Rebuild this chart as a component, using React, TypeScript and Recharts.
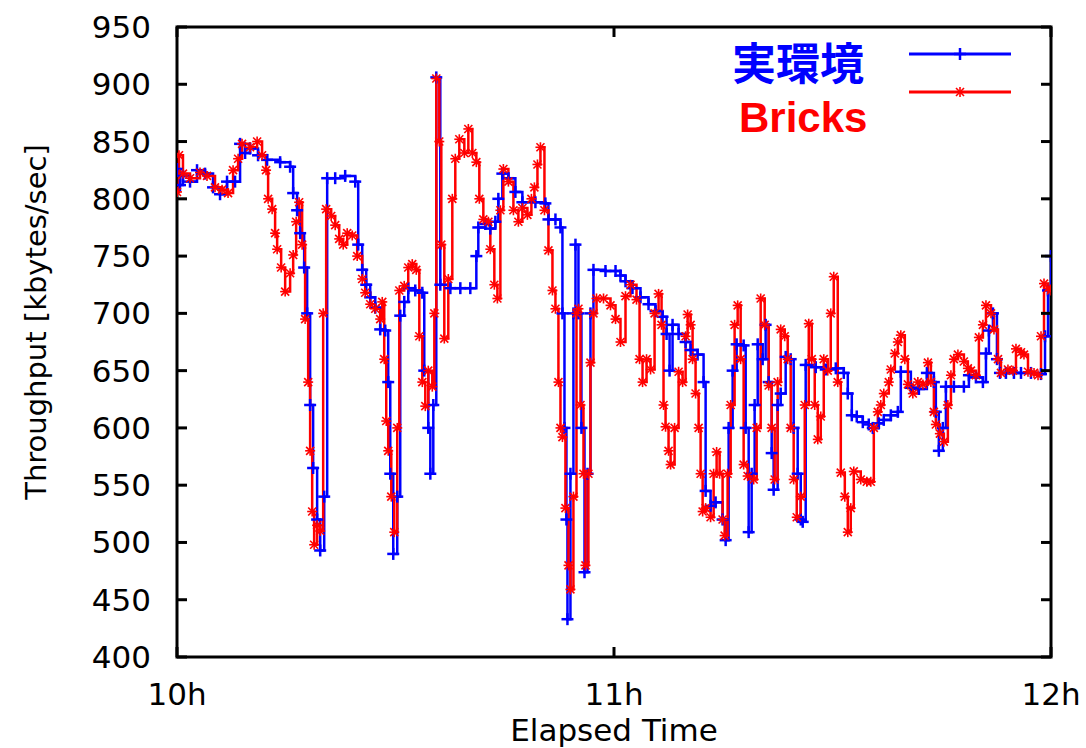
import React from 'react';
import { LineChart, Line, XAxis, YAxis, ReferenceArea } from 'recharts';

// elapsed minutes since 10h, throughput in kbytes/sec
const realTimes = [
  0, 0.41, 0.82, 1.79, 2.75, 3.85, 4.95, 5.91, 6.87, 7.97,
  8.66, 9.35, 10.03, 11.13, 12.37, 14.16, 15.53, 15.95, 16.49, 16.91,
  17.46, 17.87, 18.28, 18.69, 19.24, 19.66, 20.21, 20.62, 21.72, 23.09,
  24.47, 24.88, 25.43, 25.98, 26.53, 27.22, 27.9, 28.59, 29.0, 29.28,
  29.69, 30.24, 30.65, 31.2, 31.75, 32.71, 33.68, 33.95, 34.5, 34.78,
  35.19, 35.6, 36.15, 37.53, 38.9, 40.27, 41.1, 41.37, 42.34, 43.02,
  43.71, 44.12, 44.67, 45.5, 46.46, 47.42, 49.21, 50.58, 51.0, 51.96,
  52.65, 52.92, 53.2, 53.47, 53.61, 54.02, 54.43, 54.71, 55.12, 55.53,
  55.95, 56.36, 56.77, 57.18, 58.83, 60.21, 60.89, 61.58, 62.54, 63.64,
  64.74, 65.7, 66.67, 67.22, 67.63, 68.04, 68.87, 69.83, 70.52, 71.48,
  72.3, 72.58, 73.26, 73.95, 74.91, 75.33, 75.74, 76.29, 76.84, 77.8,
  78.08, 78.49, 78.9, 79.31, 79.73, 80.41, 80.82, 81.24, 81.65, 81.92,
  82.47, 82.89, 83.57, 84.26, 84.67, 85.22, 85.64, 85.91, 86.32, 87.7,
  89.07, 90.45, 91.55, 92.1, 92.65, 93.33, 94.16, 94.98, 95.53, 96.36,
  97.04, 98.01, 98.97, 99.38, 100.76, 101.86, 102.96, 103.92, 104.19, 104.6,
  105.15, 105.57, 106.67, 108.04, 108.73, 109.69, 110.65, 111.07, 111.48, 112.03,
  112.58, 112.99, 113.81, 114.91, 115.88, 117.25, 118.63, 119.18, 119.59, 120,
];
const realValues = [
  826, 812, 820, 815, 825, 822, 810, 804, 815, 815,
  848, 840, 844, 838, 834, 832, 828, 805, 790, 770,
  740, 700, 620, 565, 520, 493, 540, 818, 818, 820,
  815, 760, 738, 725, 714, 705, 686, 685, 640, 560,
  490, 540, 698, 710, 722, 720, 718, 650, 600, 560,
  620, 906, 725, 722, 722, 722, 750, 775, 778, 774,
  780, 800, 822, 818, 806, 797, 797, 796, 782, 782,
  775, 700, 600, 520, 433, 560, 700, 760, 700, 600,
  474, 560, 700, 738, 737, 737, 733, 728, 722, 714,
  708, 702, 697, 682, 650, 690, 682, 675, 668, 664,
  640, 545, 532, 535, 520, 502, 600, 650, 673, 672,
  600, 509, 560, 620, 673, 660, 690, 640, 578, 546,
  620, 630, 662, 660, 600, 560, 520, 518, 655, 653,
  651, 652, 648, 630, 611, 610, 605, 603, 600, 604,
  607, 611, 614, 649, 635, 634, 648, 640, 614, 580,
  600, 636, 636, 636, 646, 644, 640, 665, 685, 700,
  660, 648, 648, 648, 648, 648, 647, 680, 720, 750,
];

const bricksTimes = [
  0, 0.27, 0.82, 1.79, 3.16, 4.12, 5.22, 6.19, 7.01, 7.7,
  8.39, 8.93, 10.03, 11.0, 11.68, 12.23, 12.51, 13.06, 13.47, 13.75,
  14.3, 14.85, 15.53, 15.95, 16.36, 16.77, 17.18, 17.59, 18.01, 18.28,
  18.56, 18.83, 19.24, 19.66, 20.07, 20.48, 21.17, 21.72, 22.27, 22.82,
  23.37, 24.06, 24.74, 25.43, 25.84, 26.53, 27.22, 27.9, 28.18, 28.45,
  28.73, 29.0, 29.42, 29.83, 30.24, 30.52, 31.2, 31.75, 32.3, 32.85,
  33.27, 33.68, 34.09, 34.5, 35.05, 35.33, 35.6, 36.01, 36.29, 36.7,
  37.25, 37.8, 38.21, 38.76, 39.45, 40.0, 40.55, 41.1, 41.51, 42.06,
  42.75, 43.02, 43.57, 43.99, 44.4, 44.81, 45.5, 46.19, 46.87, 47.42,
  48.11, 48.66, 49.07, 49.49, 49.9, 50.45, 51.0, 51.55, 51.96, 52.37,
  52.65, 52.92, 53.33, 53.75, 54.02, 54.43, 54.85, 55.12, 55.4, 55.81,
  56.08, 56.49, 56.77, 57.18, 57.6, 58.56, 59.52, 60.21, 60.89, 61.58,
  62.27, 63.09, 63.51, 63.92, 64.47, 65.02, 65.57, 66.12, 66.53, 66.8,
  67.08, 67.49, 67.77, 68.32, 68.87, 69.42, 69.83, 70.11, 70.52, 70.79,
  71.2, 71.62, 71.89, 72.17, 72.58, 73.26, 73.68, 74.09, 74.5, 74.91,
  75.19, 75.6, 76.02, 76.56, 76.98, 77.39, 77.8, 78.35, 79.18, 79.59,
  80.14, 80.69, 81.24, 81.65, 82.06, 82.47, 82.89, 83.44, 83.85, 84.26,
  84.67, 85.09, 85.64, 86.19, 86.74, 87.15, 87.56, 87.98, 88.39, 88.8,
  89.35, 89.76, 90.17, 90.72, 91.14, 91.69, 92.1, 92.51, 92.92, 93.88,
  94.71, 95.26, 95.67, 96.22, 96.63, 97.04, 97.73, 98.01, 98.56, 98.97,
  99.38, 99.93, 100.35, 101.03, 101.72, 102.41, 103.1, 103.51, 103.92, 104.19,
  104.74, 105.29, 105.84, 106.26, 106.67, 107.22, 108.04, 108.59, 109.01, 109.69,
  110.1, 110.65, 111.07, 111.76, 112.17, 112.72, 113.13, 114.09, 114.78, 115.19,
  115.88, 116.29, 116.84, 117.67, 118.22, 118.63, 119.04, 119.59, 120,
];
const bricksValues = [
  806, 838, 822, 818, 823, 820, 810, 808, 805, 825,
  835, 848, 845, 850, 838, 825, 800, 791, 770, 756,
  740, 719, 735, 751, 780, 797, 760, 695, 640, 580,
  527, 498, 515, 510, 700, 791, 785, 777, 765, 760,
  770, 768, 750, 730, 718, 708, 704, 695, 710, 660,
  606, 580, 540, 509, 600, 720, 724, 740, 743, 738,
  680, 640, 619, 650, 636, 700, 905, 850, 760, 678,
  730, 800, 835, 852, 840, 861, 840, 832, 800, 782,
  780, 756, 725, 713, 790, 826, 815, 790, 780, 792,
  786, 800, 810, 830, 845, 790, 755, 720, 704, 640,
  600, 592, 530, 480, 459, 540, 700, 704, 620, 560,
  480, 560, 657, 700, 713, 713, 707, 695, 675, 715,
  725, 712, 660, 640, 660, 651, 700, 717, 690, 620,
  601, 580, 568, 600, 649, 640, 680, 699, 690, 660,
  630, 600, 560, 527, 530, 522, 560, 579, 560, 520,
  506, 560, 620, 690, 707, 660, 568, 558, 555, 600,
  713, 690, 637, 600, 555, 640, 686, 680, 660, 600,
  555, 522, 540, 620, 691, 660, 620, 590, 610, 660,
  650, 700, 732, 640, 561, 540, 509, 530, 562, 555,
  553, 553, 600, 614, 620, 630, 640, 651, 665, 675,
  681, 660, 638, 630, 640, 638, 657, 640, 614, 603,
  595, 588, 620, 646, 660, 664, 658, 652, 650, 646,
  679, 690, 707, 700, 686, 660, 648, 651, 650, 669,
  666, 664, 649, 648, 646, 680, 726, 722, 720,
];

const yTicks = [400, 450, 500, 550, 600, 650, 700, 750, 800, 850, 900, 950];
const xTickValues = [0, 60, 120];
const xTickLabels = ['10h', '11h', '12h'];
const seriesNames = ['実環境', 'Bricks'];

const realData = realTimes.map((t, i) => ({ t, v: realValues[i] }));
const bricksData = bricksTimes.map((t, i) => ({ t, v: bricksValues[i] }));

const W = 1086;
const H = 748;
const Y_AXIS_W = 100;
const X_AXIS_H = 60;
const MARGIN = { top: 27, right: 35, bottom: 31, left: 77 };
const PLOT_LEFT = MARGIN.left + Y_AXIS_W;
const PLOT_RIGHT = W - MARGIN.right;
const PLOT_TOP = MARGIN.top;
const PLOT_BOTTOM = H - MARGIN.bottom - X_AXIS_H;

const BLUE = '#0000ff';
const RED = '#ff0000';
const FONT = '"DejaVu Sans", sans-serif';

const PlusMark = ({ cx, cy }: { cx: number; cy: number }) => (
  <g stroke={BLUE} strokeWidth={2.5}>
    <line x1={cx - 6} x2={cx + 6} y1={cy} y2={cy} />
    <line x1={cx} x2={cx} y1={cy - 6} y2={cy + 6} />
  </g>
);

const StarMark = ({ cx, cy }: { cx: number; cy: number }) => (
  <g stroke={RED} strokeWidth={1.6}>
    <line x1={cx - 5} x2={cx + 5} y1={cy} y2={cy} />
    <line x1={cx} x2={cx} y1={cy - 5} y2={cy + 5} />
    <line x1={cx - 4} x2={cx + 4} y1={cy - 4} y2={cy + 4} />
    <line x1={cx - 4} x2={cx + 4} y1={cy + 4} y2={cy - 4} />
  </g>
);

const YTick = (props: any) => {
  const { x, y, payload } = props;
  return (
    <g>
      <line x1={PLOT_LEFT} x2={PLOT_LEFT + 10} y1={y} y2={y} stroke="#000" strokeWidth={3} />
      <line x1={PLOT_RIGHT - 10} x2={PLOT_RIGHT} y1={y} y2={y} stroke="#000" strokeWidth={3} />
      <text x={x} y={y + 11} textAnchor="end" fontSize={31} fontFamily={FONT} fill="#000">
        {payload.value}
      </text>
    </g>
  );
};

const XTick = (props: any) => {
  const { x, payload } = props;
  const label = xTickLabels[xTickValues.indexOf(payload.value)];
  return (
    <g>
      <line x1={x} x2={x} y1={PLOT_BOTTOM - 10} y2={PLOT_BOTTOM} stroke="#000" strokeWidth={3} />
      <line x1={x} x2={x} y1={PLOT_TOP} y2={PLOT_TOP + 10} stroke="#000" strokeWidth={3} />
      <text x={x} y={PLOT_BOTTOM + 48} textAnchor="middle" fontSize={31} fontFamily={FONT} fill="#000">
        {label}
      </text>
    </g>
  );
};

const App: React.FC = () => {
  return (
    <div style={{ position: 'absolute', left: 0, top: 0, width: W, height: H, background: '#fff' }}>
      <LineChart width={W} height={H} margin={MARGIN}>
        <XAxis
          dataKey="t"
          type="number"
          domain={[0, 120]}
          ticks={xTickValues}
          allowDataOverflow
          height={X_AXIS_H}
          axisLine={false}
          tickLine={false}
          tickSize={0}
          tick={<XTick />}
        />
        <YAxis
          type="number"
          domain={[400, 950]}
          ticks={yTicks}
          allowDataOverflow
          width={Y_AXIS_W}
          axisLine={false}
          tickLine={false}
          tickSize={0}
          tickMargin={26}
          tick={<YTick />}
        />
        <Line
          data={realData}
          dataKey="v"
          name={seriesNames[0]}
          type="stepAfter"
          stroke={BLUE}
          strokeWidth={2.5}
          dot={(p: any) => <PlusMark key={`b${p.index}`} cx={p.cx} cy={p.cy} />}
          activeDot={false}
          isAnimationActive={false}
        />
        <Line
          data={bricksData}
          dataKey="v"
          name={seriesNames[1]}
          type="stepAfter"
          stroke={RED}
          strokeWidth={2.5}
          dot={(p: any) => <StarMark key={`r${p.index}`} cx={p.cx} cy={p.cy} />}
          activeDot={false}
          isAnimationActive={false}
        />
        <ReferenceArea x1={0} x2={120} y1={400} y2={950} fill="none" stroke="#000" strokeWidth={3} ifOverflow="visible" />
      </LineChart>
      <svg
        width={W}
        height={H}
        style={{ position: 'absolute', left: 0, top: 0, pointerEvents: 'none' }}
      >
        <text
          transform="translate(36, 322) rotate(-90)"
          textAnchor="middle"
          dominantBaseline="central"
          fontSize={29}
          fontFamily={FONT}
          fill="#000"
        >
          Throughput [kbytes/sec]
        </text>
        <text x={(PLOT_LEFT + PLOT_RIGHT) / 2} y={741} textAnchor="middle" fontSize={31} fontFamily={FONT} fill="#000">
          Elapsed Time
        </text>
        <text x={732} y={80} fontSize={44} fontWeight="bold" fontFamily='"Noto Sans CJK JP", sans-serif' fill={BLUE}>
          {seriesNames[0]}
        </text>
        <text x={739} y={132} fontSize={42} fontWeight="bold" fontFamily='"Liberation Sans", Arial, sans-serif' fill={RED}>
          {seriesNames[1]}
        </text>
        <line x1={909} x2={1011} y1={54} y2={54} stroke={BLUE} strokeWidth={3} />
        <PlusMark cx={960} cy={54} />
        <line x1={909} x2={1011} y1={92} y2={92} stroke={RED} strokeWidth={3} />
        <StarMark cx={960} cy={92} />
      </svg>
    </div>
  );
};

export default App;
